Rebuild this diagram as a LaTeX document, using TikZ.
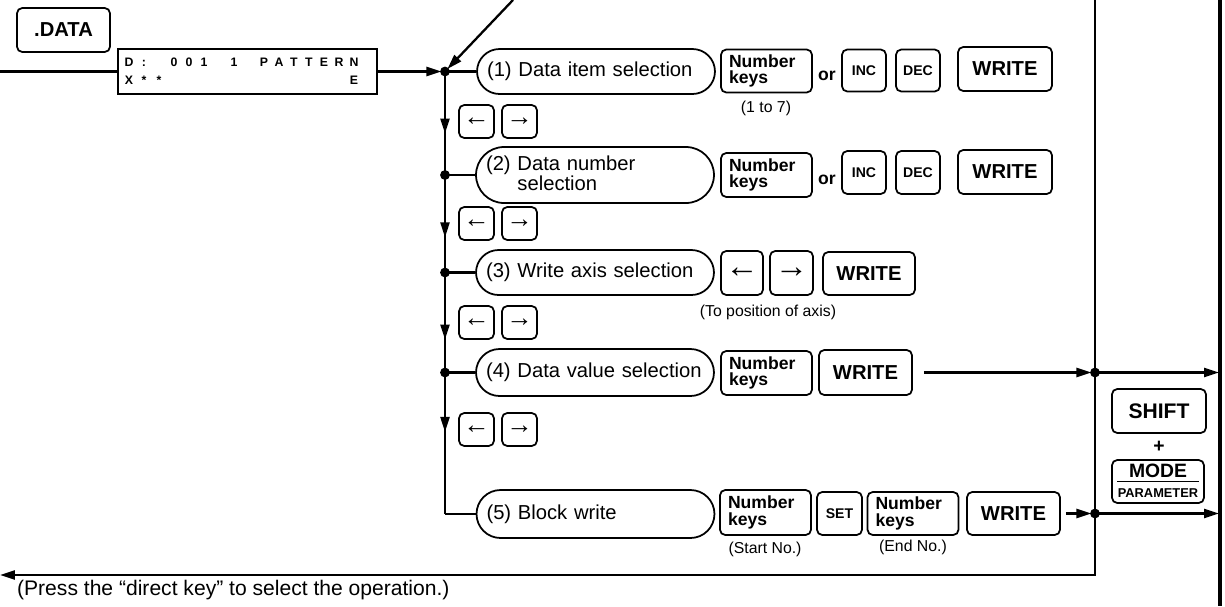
\documentclass[tikz,border=0pt]{standalone}
\usepackage{fontspec}
\setmainfont{Liberation Sans}
\usetikzlibrary{arrows.meta, decorations.markings}

% one character cell of the display
\newcommand\lcdch[1]{\makebox[0.3cm][c]{#1}}
\makeatletter
\newcommand\lcdrow[1]{\lcd@row#1\relax}
\def\lcd@row#1{\ifx#1\relax\else\lcdch{#1}\expandafter\lcd@row\fi}
\makeatother

\tikzset{
    key/.style={draw, line width=1pt, rounded corners=3pt, inner sep=0pt, align=center},
    bigkey/.style={key, font=\bfseries\fontsize{11.5}{12}\selectfont},
    numkey/.style={key, minimum width=1.82cm, minimum height=0.86cm, text width=1.5cm, inner xsep=0.16cm, align=left, font=\bfseries\fontsize{10}{9.6}\selectfont},
    smallkey/.style={key, minimum width=0.88cm, minimum height=0.84cm, font=\bfseries\fontsize{8}{8}\selectfont},
    arrkey/.style={key, minimum width=0.7cm, minimum height=0.66cm, font=\fontsize{15}{15}\selectfont},
    stadium/.style={draw, line width=1pt, rounded corners=#1/2, minimum height=#1, minimum width=4.76cm, text width=4.36cm, inner xsep=0.2cm, inner ysep=0pt, align=left, font=\fontsize{11.5}{11.5}\selectfont},
    note/.style={inner sep=0pt, font=\fontsize{9}{9}\selectfont},
    ortext/.style={inner sep=0pt, font=\bfseries\fontsize{10}{10}\selectfont},
    midarrow/.style={postaction={decorate, decoration={markings, mark=at position #1 with {\arrow{>}}}}}
}

\begin{document}
\begin{tikzpicture}[x=0.02cm, y=-0.02cm, line width=1.3pt, >={Triangle[length=0.3cm,width=0.18cm]}]
    \useasboundingbox (0,0) rectangle (1225,606);

    % Display and DATA key
    \node[bigkey, minimum width=1.86cm, minimum height=0.88cm] (datakey) at (63.5,30) {.DATA};
    \node[draw, line width=1pt, minimum width=5.18cm, minimum height=0.9cm, text width=5.04cm, inner xsep=0.07cm, inner ysep=0pt, align=left, font=\bfseries\fontsize{7}{10.2}\selectfont] (lcd) at (247.5,71.5) {\lcdrow{D:~001~1~PATTERN}\\\lcdrow{X**~~~~~~~~~~~~E}};

    % (1) data item
    \node[stadium=0.9cm] (sel1) at (596,71.5) {(1) Data item selection};
    \node[numkey] (num1) at (766.5,71) {Number\\keys};
    \node[note] (range1) at (766,108) {(1 to 7)};
    \node[ortext] (or1) at (827,76) {or};
    \node[smallkey] (inc1) at (864,70.5) {INC};
    \node[smallkey] (dec1) at (918,70.5) {DEC};
    \node[bigkey, minimum width=1.88cm, minimum height=0.88cm] (write1) at (1005,69) {WRITE};

    % (2) data number
    \node[stadium=1.12cm] (sel2) at (595,175) {(2) Data number\\\phantom{(2) }selection};
    \node[numkey, minimum height=0.88cm] (num2) at (766.5,175) {Number\\keys};
    \node[ortext] (or2) at (827,180) {or};
    \node[smallkey, minimum height=0.86cm] (inc2) at (864,172.5) {INC};
    \node[smallkey, minimum height=0.86cm] (dec2) at (918,172.5) {DEC};
    \node[bigkey, minimum width=1.88cm, minimum height=0.88cm] (write2) at (1005,172) {WRITE};

    % (3) write axis
    \node[stadium=0.9cm] (sel3) at (595,272.5) {(3) Write axis selection};
    \node[arrkey, minimum width=0.84cm, minimum height=0.88cm, font=\fontsize{19}{19}\selectfont] (axleft) at (742,273) {←};
    \node[arrkey, minimum width=0.86cm, minimum height=0.88cm, font=\fontsize{19}{19}\selectfont] (axright) at (791.5,273) {→};
    \node[bigkey, minimum width=1.84cm, minimum height=0.86cm] (write3) at (869,273.5) {WRITE};
    \node[note] (axnote) at (768,312) {(To position of axis)};

    % (4) data value
    \node[stadium=0.94cm] (sel4) at (595,372.5) {(4) Data value selection};
    \node[numkey, minimum height=0.88cm] (num4) at (766.5,373) {Number\\keys};
    \node[bigkey, minimum width=1.86cm, minimum height=0.9cm] (write4) at (865.5,372.5) {WRITE};

    % (5) block write
    \node[stadium=0.96cm] (sel5) at (595.5,514) {(5) Block write};
    \node[numkey, minimum height=0.9cm] (num5) at (765.5,512.5) {Number\\keys};
    \node[note] (start5) at (765,549) {(Start No.)};
    \node[smallkey, minimum width=0.9cm, minimum height=0.86cm] (set5) at (839.5,513.5) {SET};
    \node[numkey] (num6) at (913,513.5) {Number\\keys};
    \node[note] (end5) at (913,547) {(End No.)};
    \node[bigkey, minimum width=1.86cm, minimum height=0.86cm] (write5) at (1013.5,513.5) {WRITE};

    % cursor keys between the rows
    \foreach \y [count=\i] in {121.5,223.5,322.5,429.5} {
        \node[arrkey] (left\i) at (476.5,\y) {←};
        \node[arrkey] (right\i) at (519.5,\y) {→};
    }

    % SHIFT + MODE
    \node[bigkey, minimum width=1.88cm, minimum height=0.88cm, font=\bfseries\fontsize{12}{12}\selectfont] (shift) at (1159,411) {SHIFT};
    \node[inner sep=0pt, font=\bfseries\fontsize{11}{11}\selectfont] (plus) at (1159,447) {+};
    \node[key, minimum width=1.84cm, minimum height=0.86cm] (modekey) at (1158,481.5) {};
    \node[inner sep=0pt, font=\bfseries\fontsize{11}{11}\selectfont] (modetxt) at (1158,471) {MODE};
    \node[inner sep=0pt, font=\bfseries\fontsize{7.3}{7.3}\selectfont] (paramtxt) at (1158,493) {PARAMETER};
    \draw[line width=0.8pt] ([xshift=0.12cm]modekey.west) -- ([xshift=-0.12cm]modekey.east);

    \node[anchor=west, inner sep=0pt, font=\fontsize{12}{12}\selectfont] (hint) at (16,590) {(Press the “direct key” to select the operation.)};

    % junctions
    \coordinate (inl) at (0,71.5);
    \coordinate (diag) at (513,0);
    \coordinate (j1) at (445,71.5);
    \coordinate (j2) at (445,175);
    \coordinate (j3) at (445,272.5);
    \coordinate (j4) at (445,372.5);
    \coordinate (c5) at (j4 |- sel5.west);
    \coordinate (ftop) at (1095,0);
    \coordinate (fbot) at (1095,575);
    \coordinate (outl) at (0,575);
    \coordinate (f4) at (1095,372.5);
    \coordinate (f5) at (1095,513.5);
    \coordinate (r4) at (1219,372.5);
    \coordinate (r5) at (1219,513.5);

    % flow lines
    \draw (inl) -- (lcd.west);
    \draw[->, shorten >=2pt] (lcd.east) -- (j1);
    \draw[->, shorten >=2pt] (diag) -- (j1);
    \foreach \i in {1,...,4}
        \draw (j\i) -- (sel\i.west);
    \draw[midarrow=0.6] (j1) -- (j2);
    \draw[midarrow=0.64] (j2) -- (j3);
    \draw[midarrow=0.67] (j3) -- (j4);
    \draw[midarrow=0.42] (j4) -- (c5);
    \draw (c5) -- (sel5.west);
    \draw[->, shorten <=0.22cm, shorten >=2pt] (write4) -- (f4);
    \draw[->, shorten <=0.1cm, shorten >=2pt] (write5) -- (f5);
    \draw[->] (f4) -- (r4);
    \draw[->] (f5) -- (r5);
    \draw[->] (ftop) -- (fbot) -- (outl);
    \draw[line width=2.4pt] (1220,0) -- (1220,606);

    \foreach \p in {j1,j2,j3,j4,f4,f5}
        \fill (\p) circle (2.8pt);
\end{tikzpicture}
\end{document}
